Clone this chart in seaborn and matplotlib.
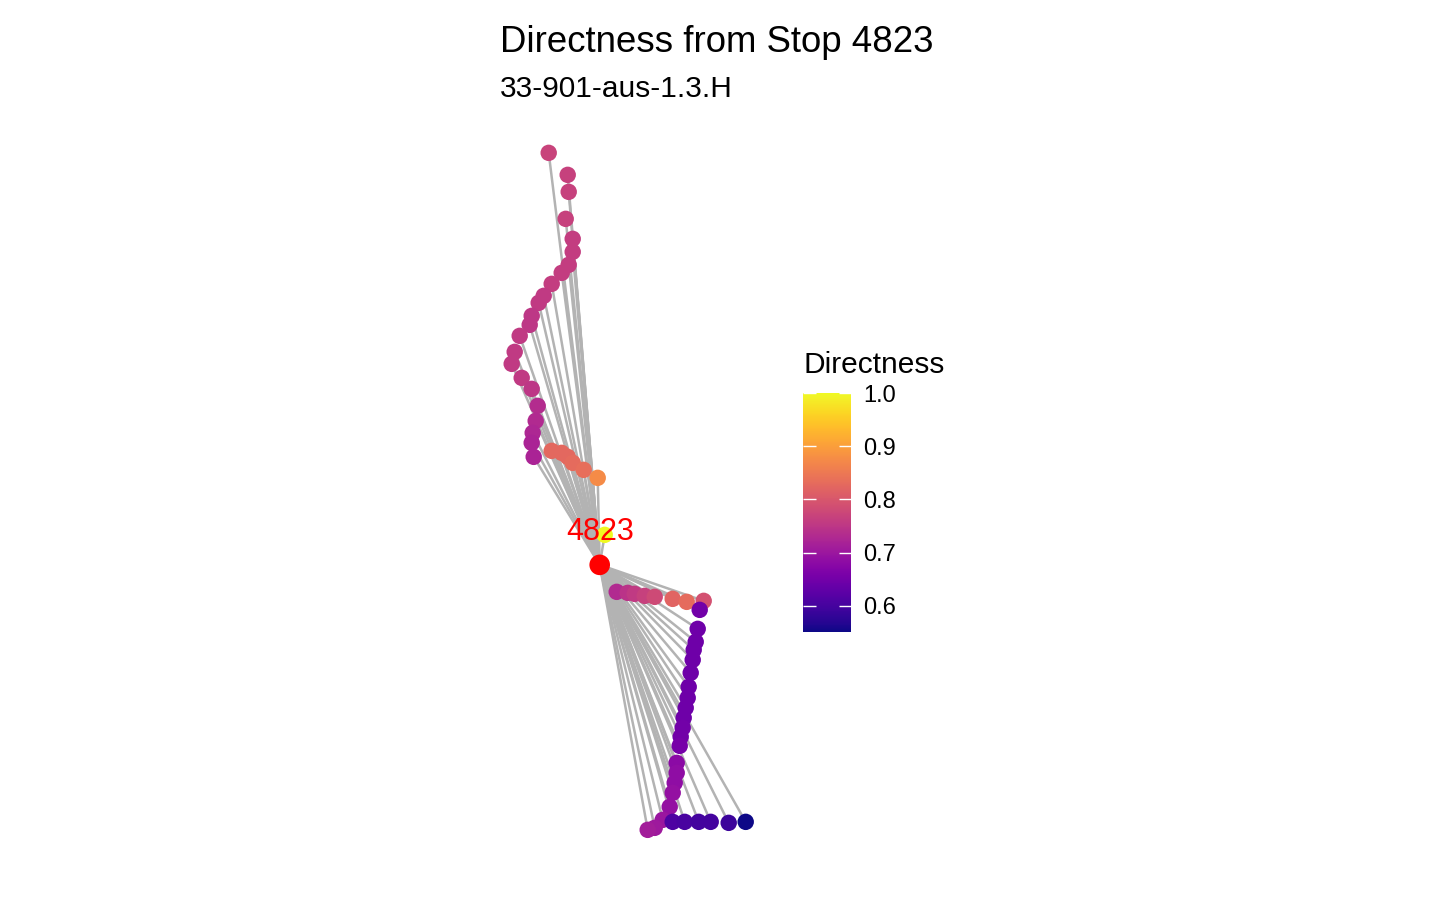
import numpy as np
import pandas as pd
import matplotlib
matplotlib.use('Agg')
import matplotlib.pyplot as plt
import seaborn as sns

# stop offsets from stop 4823 in metres (east, north) and directness
east_m = [-1530, -960, -930, -1020, -810, -810, -930, -1140, -1440, -1680,
          -1830, -2040, -2100, -2400, -2550, -2640, -2340, -2040, -1860, -1920,
          -2010, -2040, -1980,
          -1440, -1140, -960, -810, -480, -60,
          150,
          510, 840, 1050, 1350, 1650, 2190, 2610, 3120, 3000,
          2940, 2880, 2820, 2790, 2730, 2670, 2640, 2580, 2520, 2490, 2430, 2400,
          2310, 2310, 2250, 2190, 2100, 1890, 1650, 1440,
          2190, 2550, 2970, 3330, 3870, 4380]
north_m = [12360, 11700, 11190, 10380, 9780, 9390, 9000, 8760, 8430, 8070,
           7860, 7470, 7200, 6870, 6390, 6030, 5610, 5280, 4770, 4320,
           3960, 3660, 3240,
           3420, 3360, 3240, 3060, 2850, 2610,
           900,
           -810, -840, -870, -930, -960, -1020, -1110, -1080, -1350,
           -1920, -2310, -2550, -2850, -3240, -3660, -3990, -4290, -4590, -4890, -5160, -5430,
           -5940, -6240, -6540, -6840, -7260, -7650, -7890, -7950,
           -7710, -7710, -7710, -7710, -7740, -7710]
directness = [0.77, 0.765, 0.765, 0.765, 0.76, 0.76, 0.76, 0.76, 0.76, 0.755,
              0.755, 0.75, 0.75, 0.755, 0.755, 0.755, 0.755, 0.75, 0.735, 0.73,
              0.725, 0.72, 0.72,
              0.825, 0.825, 0.825, 0.83, 0.835, 0.875,
              1.0,
              0.73, 0.745, 0.755, 0.765, 0.78, 0.82, 0.83, 0.79, 0.65,
              0.645, 0.645, 0.645, 0.645, 0.645, 0.645, 0.645, 0.645, 0.645, 0.65, 0.65, 0.655,
              0.68, 0.685, 0.685, 0.69, 0.69, 0.70, 0.705, 0.71,
              0.61, 0.605, 0.60, 0.60, 0.59, 0.551]

origin_id = "4823"
route_id = "33-901-aus-1.3.H"

df = pd.DataFrame({'east': east_m, 'north': north_m, 'directness': directness})

W, H = 1456, 899
fig = plt.figure(figsize=(W / 100, H / 100), dpi=100)
font = ['Liberation Sans', 'DejaVu Sans']

# 5% expansion like coord_sf
xmin, xmax = df['east'].min(), df['east'].max()
ymin, ymax = df['north'].min(), df['north'].max()
xpad, ypad = (xmax - xmin) * 0.05, (ymax - ymin) * 0.05
xlim = (xmin - xpad, xmax + xpad)
ylim = (ymin - ypad, ymax + ypad)

m_per_px = 30
w_px = (xlim[1] - xlim[0]) / m_per_px
h_px = (ylim[1] - ylim[0]) / m_per_px
left_px, top_px = 500, 119
ax = fig.add_axes([left_px / W, 1 - (top_px + h_px) / H, w_px / W, h_px / H])

for e, n in zip(df['east'], df['north']):
    ax.plot([0, e], [0, n], color='#b3b3b3', lw=1.8, zorder=1, solid_capstyle='butt')

vmin, vmax = df['directness'].min(), df['directness'].max()
norm = plt.Normalize(vmin, vmax)
sns.scatterplot(data=df, x='east', y='north', hue='directness', palette='plasma',
                hue_norm=norm, s=140, edgecolor='none', legend=False, ax=ax, zorder=2)

ax.scatter([0], [0], s=220, color='red', edgecolor='none', zorder=3)
ax.text(0, 1000, origin_id, color='red', fontsize=22, ha='center', va='center',
        family=font, zorder=4)

ax.set_xlim(xlim)
ax.set_ylim(ylim)
ax.set_aspect('equal')
ax.set_axis_off()

fig.text(left_px / W, 1 - 43 / H, f"Directness from Stop {origin_id}", fontsize=26.4,
         ha='left', va='center', family=font)
fig.text(left_px / W, 1 - 89 / H, route_id, fontsize=21.5,
         ha='left', va='center', family=font)

# colorbar legend
cax = fig.add_axes([803 / W, 1 - 632 / H, 48 / W, 239 / H])
sm = plt.cm.ScalarMappable(cmap='plasma', norm=norm)
cb = fig.colorbar(sm, cax=cax, ticks=[0.6, 0.7, 0.8, 0.9, 1.0])
cb.outline.set_visible(False)
cb.ax.set_yticklabels(['0.6', '0.7', '0.8', '0.9', '1.0'], family=font, fontsize=17)
cb.ax.tick_params(left=True, right=True, direction='in', color='white', length=9,
                  width=1, pad=9)
fig.text(804 / W, 1 - 365 / H, "Directness", fontsize=21.5, ha='left', va='center',
         family=font)

fig.savefig('out.png', dpi=100)
